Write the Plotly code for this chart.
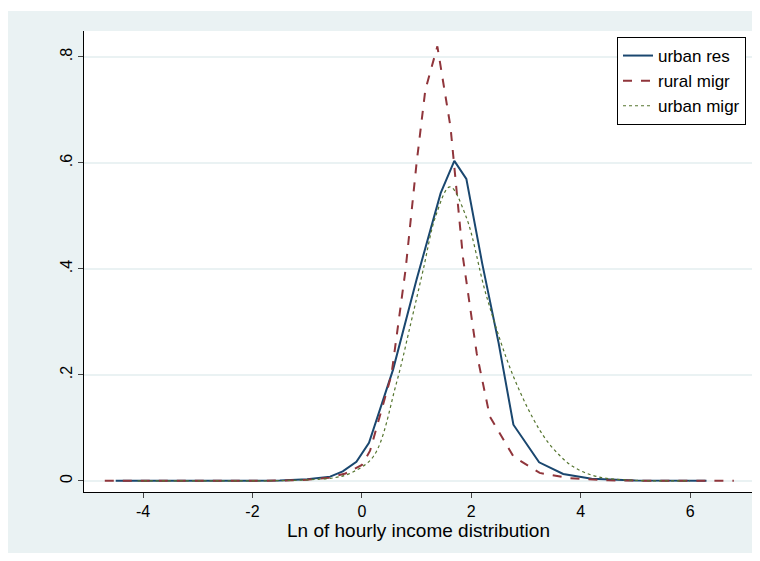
import plotly.graph_objects as go

ur_x = [-4.5, -3, -2, -1.5, -1.0, -0.58, -0.35, -0.1, 0.13, 0.57, 1.0, 1.44, 1.69, 1.91, 2.2, 2.5, 2.77, 3.24, 3.68, 4.2, 5.0, 6.3]
ur_y = [0, 0, 0, 0.0005, 0.003, 0.008, 0.018, 0.036, 0.072, 0.21, 0.38, 0.543, 0.604, 0.57, 0.41, 0.26, 0.106, 0.035, 0.013, 0.004, 0.0005, 0]

rm_x = [-4.7, -3, -2, -1.5, -1.0, -0.6, -0.3, 0.0, 0.15, 0.54, 0.8, 1.0, 1.16, 1.38, 1.62, 1.85, 2.1, 2.34, 2.77, 3.25, 3.8, 4.5, 5.5, 6.8]
rm_y = [0, 0, 0, 0.0005, 0.002, 0.006, 0.014, 0.03, 0.057, 0.20, 0.40, 0.60, 0.738, 0.82, 0.668, 0.42, 0.24, 0.121, 0.046, 0.015, 0.005, 0.001, 0, 0]

um_x = [-4.1, -3, -2, -1.5, -1.0, -0.5, -0.2, 0.21, 0.63, 0.9, 1.12, 1.35, 1.61, 1.9, 2.28, 2.77, 3.25, 3.55, 3.86, 4.3, 5.0, 6.0]
um_y = [0, 0, 0, 0.0005, 0.002, 0.006, 0.015, 0.046, 0.184, 0.30, 0.398, 0.50, 0.555, 0.50, 0.348, 0.197, 0.096, 0.055, 0.027, 0.008, 0.001, 0]

x_ticks = [-4, -2, 0, 2, 4, 6]
x_labels = ["-4", "-2", "0", "2", "4", "6"]
y_ticks = [0, 0.2, 0.4, 0.6, 0.8]
y_labels = ["0", ".2", ".4", ".6", ".8"]

fig = go.Figure()
fig.add_trace(go.Scatter(x=ur_x, y=ur_y, mode="lines", name="urban res",
                         line=dict(color="#1a476f", width=2)))
fig.add_trace(go.Scatter(x=rm_x, y=rm_y, mode="lines", name="rural migr",
                         line=dict(color="#90353b", width=2, dash="dash")))
fig.add_trace(go.Scatter(x=um_x, y=um_y, mode="lines", name="urban migr", line_shape="spline",
                         line=dict(color="#55752f", width=1.2, dash="dot")))

W, H = 752, 545
L, R, T, B = 76, 7, 23, 61
pw, ph = W - L - R, H - T - B
def px(x): return (x - L) / pw
def py(y): return (H - B - y) / ph
shapes = [dict(type="rect", xref="paper", yref="paper", fillcolor="white", line=dict(width=0),
               layer="above", x0=px(0), x1=px(W), y0=py(3), y1=py(0))]

fig.update_layout(
    width=W, height=H,
    paper_bgcolor="#eaf2f3", plot_bgcolor="white",
    margin=dict(l=L, r=R, t=T, b=B, autoexpand=False),
    font=dict(family="Liberation Sans, Arial", size=16, color="black"),
    showlegend=True, shapes=shapes,
    legend=dict(x=px(738), xanchor="right", y=py(29), yanchor="top", bgcolor="white",
                bordercolor="black", borderwidth=1, font=dict(size=17), tracegroupgap=0),
    xaxis=dict(range=[-5.08, 7.15], tickvals=x_ticks, ticktext=x_labels, showgrid=False, zeroline=False,
               ticks="outside", ticklen=5, showline=True, linecolor="black", automargin=False,
               title=dict(text="Ln of hourly income distribution", standoff=3)),
    yaxis=dict(range=[-0.021, 0.849], tickvals=y_ticks, ticktext=y_labels, automargin=False,
               tickangle=-90, showgrid=True, gridcolor="#eaf2f3", gridwidth=1.5, zeroline=False,
               ticks="outside", ticklen=5, showline=True, linecolor="black"),
)
fig.write_html("out.html")
